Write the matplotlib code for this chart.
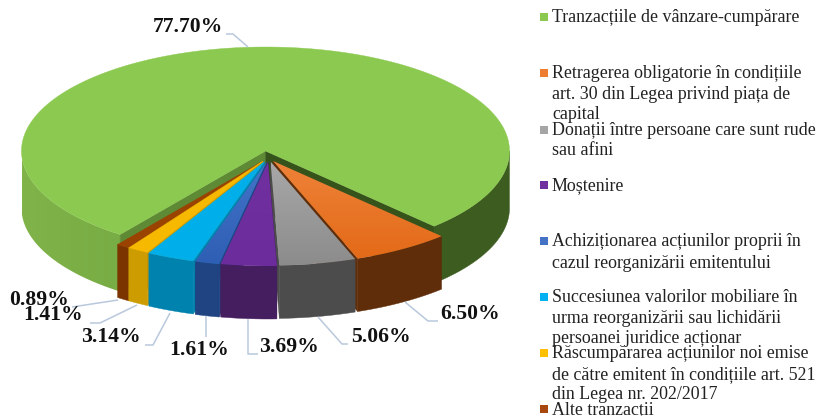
import matplotlib
matplotlib.use('Agg')
import matplotlib.pyplot as plt
from matplotlib.colors import LinearSegmentedColormap
from matplotlib.patches import Polygon, Rectangle
import numpy as np

plt.rcParams['font.family'] = ['Liberation Serif', 'DejaVu Serif']

# Data
categories = [
    ['Tranzacțiile de vânzare-cumpărare'],
    ['Retragerea obligatorie în condițiile', 'art. 30 din Legea privind piața de', 'capital'],
    ['Donații între persoane care sunt rude', 'sau afini'],
    ['Moștenire'],
    ['Achiziționarea acțiunilor proprii în', 'cazul reorganizării emitentului'],
    ['Succesiunea valorilor mobiliare în', 'urma reorganizării sau lichidării', 'persoanei juridice acționar'],
    ['Răscumpărarea acțiunilor noi emise', 'de către emitent în condițiile art. 521', 'din Legea nr. 202/2017'],
    ['Alte tranzacții'],
]
values = [77.70, 6.50, 5.06, 3.69, 1.61, 3.14, 1.41, 0.89]
labels = ['77.70%', '6.50%', '5.06%', '3.69%', '1.61%', '3.14%', '1.41%', '0.89%']

# Colours: top start, top end, side
top_a = ['#8CC950', '#EE8238', '#A8A8A8', '#7030A0', '#4274C8', '#00AEEA', '#F7B900', '#9A4200']
top_b = ['#8CC950', '#E36A18', '#8C8C8C', '#6C2C9C', '#2F5FB5', '#00AEEA', '#F7B900', '#9A4200']
side = ['#7DB247', '#5F2D0A', '#4C4C4C', '#451E60', '#204382', '#0082AE', '#CC9C00', '#7B3300']
legend_colors = ['#8CC950', '#ED7D31', '#A5A5A5', '#7030A0', '#4472C4', '#00B0F0', '#FFC000', '#A5470F']
inner_left = '#5F8A35'
inner_right = '#37531C'
right_wall = '#3D5C20'

# Pie geometry in pixels
rx, ry = 244, 104
depth = 53
green_depth = 57
start_angle = -46.3
centers = [(265.5, 151), (273, 161), (270.5, 161.5), (268, 162), (266.5, 162), (264.5, 161.5), (263, 161), (263, 161)]

legend_y = [[17], [73, 94, 114], [130, 150], [185], [241, 263], [297, 318, 338], [353, 374, 394], [409]]
label_pos = [(188, 27), (470, 314), (381, 337), (289, 347), (199, 350), (111, 337), (53, 315), (39, 300)]
leaders = [
    [(226, 34), (233, 34), (248, 47)],
    [(405, 302), (428, 321), (438, 321)],
    [(318, 317), (342, 344), (348, 344)],
    [(248, 319), (248, 354), (258, 354)],
    [(206, 316), (206, 337)],
    [(170, 313), (153, 345), (145, 345)],
    [(137, 305), (100, 323), (90, 323)],
    [(118, 300), (72, 307)],
]

fig = plt.figure(figsize=(8.19, 4.16), dpi=100)
ax = fig.add_axes([0, 0, 1, 1])
z = [1]


def next_z():
    z[0] += 1
    return z[0]


def rim(center, a0, a1, n=80):
    t = np.radians(np.linspace(a0, a1, n))
    return np.column_stack([center[0] + rx * np.cos(t), center[1] - ry * np.sin(t)])


def flat(pts, color):
    ax.add_patch(Polygon(pts, closed=True, fc=color, ec=color, lw=0.3, zorder=next_z()))


def shaded(pts, c0, c1, horizontal=False):
    # gradient clipped to a polygon
    cmap = LinearSegmentedColormap.from_list('g', [c0, c1])
    grad = np.linspace(0, 1, 64).reshape(1, -1) if horizontal else np.linspace(0, 1, 64).reshape(-1, 1)
    poly = Polygon(pts, closed=True, fc='none', ec='none')
    ax.add_patch(poly)
    x0, y0 = pts.min(axis=0)
    x1, y1 = pts.max(axis=0)
    im = ax.imshow(grad, cmap=cmap, extent=[x0, x1, y1, y0], aspect='auto',
                   interpolation='bilinear', zorder=next_z())
    im.set_clip_path(poly)


# angles from the values, clockwise
spans = np.array(values) / sum(values) * 360
ends = start_angle - np.cumsum(spans[1:])
starts = np.r_[start_angle, ends[:-1]]

# green slice goes the long way round the back
c = centers[0]
g_end = ends[-1]
down = np.array([0, green_depth])
left = rim(c, g_end, -180)
shaded(np.vstack([left, (left + down)[::-1]]), '#80B44A', '#78AC44', horizontal=True)
right = rim(c, 0, start_angle)
flat(np.vstack([right, (right + down)[::-1]]), right_wall)
apex = np.array(c, dtype=float)
a_pt = rim(c, g_end, g_end, 2)[0]
b_pt = rim(c, start_angle, start_angle, 2)[0]
flat(np.array([apex, apex + down, a_pt + down, a_pt]), inner_left)
flat(np.array([apex, apex + down, b_pt + down, b_pt]), inner_right)
flat(np.vstack([[apex], rim(c, g_end, start_angle - 360, 300)]), top_a[0])

# front slices, outermost first so that purple ends on top
down = np.array([0, depth])
for i in [1, 2, 7, 6, 5, 4, 3]:
    c = centers[i]
    a0, a1 = starts[i - 1], ends[i - 1]
    edge = rim(c, a1, a1, 2)[0] if (a0 + a1) / 2 > -90 else rim(c, a0, a0, 2)[0]
    p = np.array(c, dtype=float)
    flat(np.array([p, p + down, edge + down, edge]), side[i])
    r = rim(c, a0, a1)
    flat(np.vstack([r, (r + down)[::-1]]), side[i])
    top = np.vstack([[p], r])
    if top_a[i] == top_b[i]:
        flat(top, top_a[i])
    else:
        shaded(top, top_a[i], top_b[i])

# leader lines and value labels
for pts, lab, pos in zip(leaders, labels, label_pos):
    xs, ys = zip(*pts)
    ax.plot(xs, ys, color='#B9C8DC', lw=1.1, solid_capstyle='butt', zorder=50)
    ax.text(pos[0], pos[1], lab, fontsize=15.6, fontweight='bold',
            color='#111111', ha='center', va='center', zorder=51)

# legend
for cat, ys, col in zip(categories, legend_y, legend_colors):
    ax.add_patch(Rectangle((540, ys[0] - 4), 8, 8, fc=col, ec='none', zorder=50))
    for line, y in zip(cat, ys):
        ax.text(552, y + 5, line, fontsize=12.9, color='#222222', ha='left', va='baseline', zorder=51)

ax.set_xlim(0, 819)
ax.set_ylim(416, 0)
ax.axis('off')
fig.savefig('out.png', dpi=100)
